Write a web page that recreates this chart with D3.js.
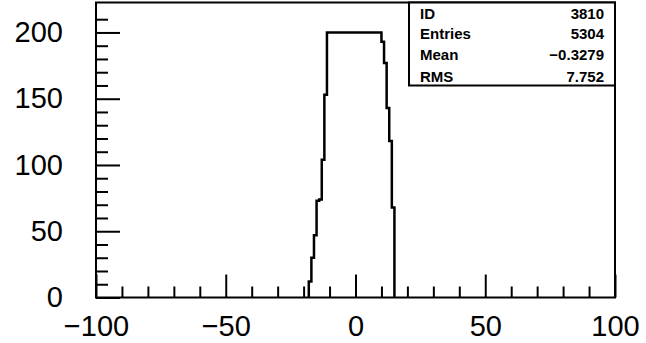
<!DOCTYPE html>
<html>
<head>
<meta charset="utf-8">
<script src="https://cdn.jsdelivr.net/npm/d3@7"></script>
<style>
  html, body { margin: 0; padding: 0; background: #fff; }
  svg { display: block; }
</style>
</head>
<body>
<svg id="chart" width="646" height="343"></svg>
<script>
// ---- data ----
const binLowEdges = [-18, -17, -16, -15, -14, -13, -12,
  -11, -10, -9, -8, -7, -6, -5, -4, -3, -2, -1, 0, 1, 2, 3, 4, 5, 6, 7, 8, 9,
  10, 11, 12, 13, 14];
const binCounts = [12, 30, 47, 73, 74, 104, 153,
  200, 200, 200, 200, 200, 200, 200, 200, 200, 200, 200, 200, 200, 200, 200, 200, 200, 200, 200, 200, 200,
  193, 177, 143, 118, 68];
const binWidth = 1;

const xMajorTicks = [-100, -50, 0, 50, 100];
const xMinorTicks = [-90, -80, -70, -60, -40, -30, -20, -10, 10, 20, 30, 40, 60, 70, 80, 90];
const yMajorTicks = [0, 50, 100, 150, 200];
const yMinorTicks = [10, 20, 30, 40, 60, 70, 80, 90, 110, 120, 130, 140, 160, 170, 180, 190, 210];

const statLabels = ["ID", "Entries", "Mean", "RMS"];
const statValues = ["3810", "5304", "\u22120.3279", "7.752"];

// ---- layout ----
const svg = d3.select("#chart");
const L = 96, R = 615, T = 2.5, B = 297.5;

const x = d3.scaleLinear().domain([-100, 100]).range([L, R]);
const y = d3.scaleLinear().domain([0, 222.6]).range([B, T]);

const fmt = d => (d < 0 ? "\u2212" : "") + Math.abs(d);

// minor ticks (no labels)
svg.append("g")
  .attr("transform", `translate(0,${B})`)
  .call(d3.axisBottom(x).tickValues(xMinorTicks).tickSize(-11).tickFormat(""))
  .call(g => g.select(".domain").remove());
svg.append("g")
  .attr("transform", `translate(${L},0)`)
  .call(d3.axisLeft(y).tickValues(yMinorTicks).tickSize(-12).tickFormat(""))
  .call(g => g.select(".domain").remove());

// major ticks with labels
const xAx = svg.append("g")
  .attr("transform", `translate(0,${B})`)
  .call(d3.axisBottom(x).tickValues(xMajorTicks).tickSize(-23).tickPadding(18).tickFormat(fmt))
  .call(g => g.select(".domain").remove());
const yAx = svg.append("g")
  .attr("transform", `translate(${L},0)`)
  .call(d3.axisLeft(y).tickValues(yMajorTicks).tickSize(-24).tickPadding(33).tickFormat(fmt))
  .call(g => g.select(".domain").remove());

svg.selectAll(".tick line").attr("stroke", "#000").attr("stroke-width", 2);
[xAx, yAx].forEach(a => a.selectAll("text")
  .attr("font-family", "'Liberation Sans', Arial, Helvetica, sans-serif")
  .attr("font-size", 29)
  .attr("fill", "#000"));

// frame
svg.append("rect")
  .attr("x", L).attr("y", T)
  .attr("width", R - L).attr("height", B - T)
  .attr("fill", "none").attr("stroke", "#000").attr("stroke-width", 2);

// histogram step outline
const pts = [[binLowEdges[0], 0]];
binLowEdges.forEach((e, i) => pts.push([e, binCounts[i]]));
const lastEdge = binLowEdges[binLowEdges.length - 1] + binWidth;
pts.push([lastEdge, binCounts[binCounts.length - 1]]);
pts.push([lastEdge, 0]);
const line = d3.line().x(d => x(d[0])).y(d => y(d[1])).curve(d3.curveStepAfter);
svg.append("path")
  .attr("d", line(pts))
  .attr("fill", "none").attr("stroke", "#000").attr("stroke-width", 2.5);

// stats box
const boxL = 409, boxR = R, boxT = T, boxB = 85.5;
svg.append("rect")
  .attr("x", boxL).attr("y", boxT)
  .attr("width", boxR - boxL).attr("height", boxB - boxT)
  .attr("fill", "#fff").attr("stroke", "#000").attr("stroke-width", 2);
const rowBase = [19, 39, 60, 82];
statLabels.forEach((s, i) => {
  svg.append("text").attr("x", 420).attr("y", rowBase[i]).text(s)
    .attr("font-family", "'Liberation Sans', Arial, sans-serif").attr("font-size", 15)
    .attr("font-weight", "bold").attr("fill", "#000");
  svg.append("text").attr("x", 604).attr("y", rowBase[i]).text(statValues[i])
    .attr("text-anchor", "end")
    .attr("font-family", "'Liberation Sans', Arial, sans-serif").attr("font-size", 15)
    .attr("font-weight", "bold").attr("fill", "#000");
});
</script>
</body>
</html>
